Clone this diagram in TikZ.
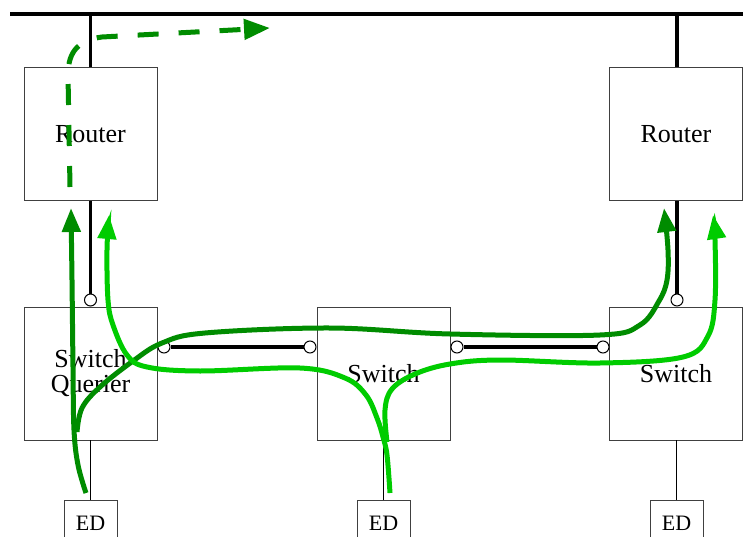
\documentclass[tikz,border=0pt]{standalone}
\usepackage{fontspec}
\setmainfont{Liberation Serif}
\usetikzlibrary{arrows.meta}
\definecolor{dkgreen}{RGB}{0,140,0}
\definecolor{ltgreen}{RGB}{0,204,0}
\begin{document}
\begin{tikzpicture}[x=1pt,y=-1pt,
  box/.style={draw=black!75,line width=0.9pt,fill=white,rectangle,inner sep=0pt,
    minimum width=133pt,minimum height=133pt,font=\fontsize{26}{26}\selectfont,align=center},
  edbox/.style={draw=black!75,line width=0.9pt,fill=white,rectangle,inner sep=0pt,
    minimum width=53pt,minimum height=46pt,font=\fontsize{22}{22}\selectfont},
  port/.style={circle,draw=black,line width=1pt,fill=white,inner sep=0pt,minimum size=12pt},
  bus/.style={line width=4pt,black},
  link/.style={line width=3.5pt,black},
  thin/.style={line width=1.5pt,black},
  garrow/.style={line width=5pt,line cap=butt,-{Triangle[length=24pt,width=18pt]}},
]
\useasboundingbox (0,0) rectangle (743,537);
\clip (0,0) rectangle (743,537);

% bus
\coordinate (busL) at (10,14);
\coordinate (busR) at (743,14);
\draw[bus] (busL) -- (busR);

% boxes
\node[box] (rl) at (90.5,134) {Router};
\node[box] (rr) at (676,134) {Router};
\node[box] (sq) at (90.5,373.5) {Switch\\[-1pt]Querier};
\node[box] (sm) at (383.5,373.5) {Switch};
\node[box] (sr) at (676,373.5) {Switch};
\node[edbox] (el) at (90.5,523) {ED};
\node[edbox] (em) at (383.5,523) {ED};
\node[edbox] (er) at (676.5,523) {ED};

% ports
\node[port] (p1) at (90.5,300) {};
\node[port] (p2) at (164,347) {};
\node[port] (p3) at (310,347) {};
\node[port] (p4) at (457,347) {};
\node[port] (p5) at (603,347) {};
\node[port] (p6) at (677,300) {};

% links
\draw[link] (rl.north) -- (rl.north |- busL);
\draw[link] (rr.north -| p6) -- (p6 |- busL);
\draw[link] (rl.south) -- (p1);
\draw[link] (rr.south -| p6) -- (p6);
\draw[link] (p2) -- (p3);
\draw[link] (p4) -- (p5);
\draw[thin] (sq.south) -- (el.north);
\draw[thin] (sm.south) -- (em.north);
\draw[thin] (sr.south -| er) -- (er.north);

% green flows
\draw[dkgreen,garrow] plot[smooth,tension=0.6] coordinates
  {(86,493) (78,465) (74,430) (73,367) (72,280) (71,208)};
\draw[dkgreen,garrow] plot[smooth,tension=0.6] coordinates
  {(77,432) (82,408) (100,387) (133,361) (162,343) (205,333) (330,328) (450,334) (600,335) (640,325) (659,301) (667,280) (668,250) (664,208)};
\draw[ltgreen,garrow] plot[smooth,tension=0.6] coordinates
  {(390,493) (387,455) (383,437) (377,418) (366,395) (345,378) (300,368) (200,371) (147,367) (127,355) (113,325) (108,300) (107,250) (109,215)};
\draw[ltgreen,garrow] plot[smooth,tension=0.6] coordinates
  {(387,442) (385,410) (392,389) (415,374) (450,364) (500,360) (600,363) (683,357) (708,336) (715,300) (715,240) (713,215)};
\draw[dkgreen,line width=5pt,dash pattern=on 21pt off 20pt,-{Triangle[length=26pt,width=20pt]}]
  (70,187) -- (68,75) .. controls (68,50) and (80,40) .. (102,37) -- (270,28);
\end{tikzpicture}
\end{document}
